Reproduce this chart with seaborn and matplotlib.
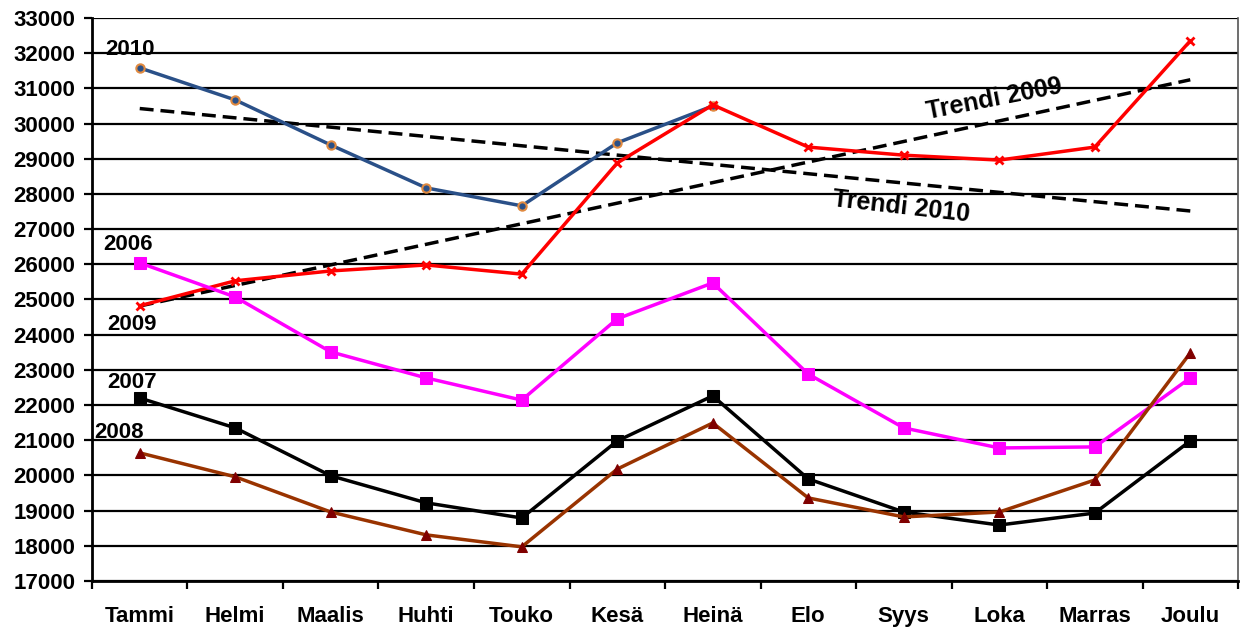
import numpy as np
import pandas as pd
import matplotlib
matplotlib.use("Agg")
import matplotlib.pyplot as plt
import seaborn as sns

# month labels (Finnish)
months = ["Tammi", "Helmi", "Maalis", "Huhti", "Touko", "Kesä",
          "Heinä", "Elo", "Syys", "Loka", "Marras", "Joulu"]

# monthly values
v2006 = [26040, 25070, 23510, 22770, 22140, 24450, 25470, 22880, 21350, 20780, 20810, 22770]
v2007 = [22200, 21350, 19990, 19220, 18790, 20980, 22260, 19900, 18960, 18590, 18930, 20980]
v2008 = [20640, 19960, 18960, 18310, 17970, 20180, 21490, 19360, 18820, 18960, 19870, 23480]
v2009 = [24820, 25530, 25810, 25980, 25720, 28880, 30530, 29330, 29100, 28960, 29330, 32350]
v2010 = [31580, 30670, 29390, 28170, 27660, 29450, 30500]

sns.set_theme(style="white")
plt.rcParams['font.family'] = ['Liberation Sans', 'DejaVu Sans']
plt.rcParams['text.color'] = 'black'
plt.rcParams['xtick.color'] = 'black'
plt.rcParams['ytick.color'] = 'black'

fig = plt.figure(figsize=(12.43, 6.27), dpi=100)
ax = fig.add_axes([0.074, 0.0734, 0.922, 0.898])

xs = np.arange(len(months))

# horizontal grid lines
for yv in range(17000, 33001, 1000):
    ax.axhline(yv, color="black", lw=1.6, zorder=0)

# linear trend lines (fitted on the data, extended to all months)
c09 = np.polyfit(xs, v2009, 1)
c10 = np.polyfit(xs[:len(v2010)], v2010, 1)
trend = pd.DataFrame({"x": xs, "t09": np.polyval(c09, xs), "t10": np.polyval(c10, xs)})
for col in ["t09", "t10"]:
    sns.lineplot(data=trend, x="x", y=col, ax=ax, color="black", lw=2.5,
                 linestyle=(0, (4, 2)), zorder=3)

# series lines
sns.lineplot(x=xs[:len(v2010)], y=v2010, ax=ax, color="#2A5088", lw=2.5,
             marker="o", markersize=6, markerfacecolor="#2A5088",
             markeredgecolor="#E08A40", markeredgewidth=1.5, zorder=4)
sns.lineplot(x=xs, y=v2009, ax=ax, color="#FF0000", lw=2.5,
             marker="x", markersize=6, markeredgecolor="#FF0000",
             markeredgewidth=2, zorder=4)
sns.lineplot(x=xs, y=v2006, ax=ax, color="#FF00FF", lw=2.5,
             marker="s", markersize=8, markerfacecolor="#FF00FF",
             markeredgecolor="#FF00FF", zorder=4)
sns.lineplot(x=xs, y=v2007, ax=ax, color="black", lw=2.5,
             marker="s", markersize=8, markerfacecolor="black",
             markeredgecolor="black", zorder=4)
sns.lineplot(x=xs, y=v2008, ax=ax, color="#993300", lw=2.5,
             marker="^", markersize=7, markerfacecolor="#800000",
             markeredgecolor="#800000", zorder=4)

ax.set_xlim(-0.5, 11.5)
ax.set_ylim(17000, 33000)
ax.set_xlabel("")
ax.set_ylabel("")

# axis ticks
ax.set_yticks(range(17000, 33001, 1000))
ax.set_yticklabels([str(v) for v in range(17000, 33001, 1000)],
                   fontsize=16, fontweight="bold")
ax.tick_params(axis="y", left=True, length=6, width=1.6, color="black", pad=6)
ax.set_xticks(xs)
ax.set_xticklabels(months, fontsize=16, fontweight="bold")
ax.set_xticks(np.arange(-0.5, 12, 1), minor=True)
ax.tick_params(axis="x", which="major", length=0, pad=18)
ax.tick_params(axis="x", which="minor", bottom=True, length=6, width=1.6, color="black")

for side in ["left", "bottom"]:
    ax.spines[side].set_color("black")
    ax.spines[side].set_linewidth(2)
ax.spines["right"].set_color("#555555")
ax.spines["right"].set_linewidth(1.2)
ax.spines["top"].set_visible(False)

# series labels
lbl = dict(fontsize=16, fontweight="bold", ha="center", va="center", color="black")
ax.text(-0.1, 32090, "2010", **lbl)
ax.text(-0.12, 26550, "2006", **lbl)
ax.text(-0.08, 24280, "2009", **lbl)
ax.text(-0.08, 22630, "2007", **lbl)
ax.text(-0.22, 21210, "2008", **lbl)

# trend labels
ax.text(8.95, 30700, "Trendi 2009", fontsize=18, fontweight="bold",
        rotation=11, ha="center", va="center")
ax.text(7.97, 27630, "Trendi 2010", fontsize=18, fontweight="bold",
        rotation=-6.5, ha="center", va="center")

fig.savefig("out.png", dpi=100)
